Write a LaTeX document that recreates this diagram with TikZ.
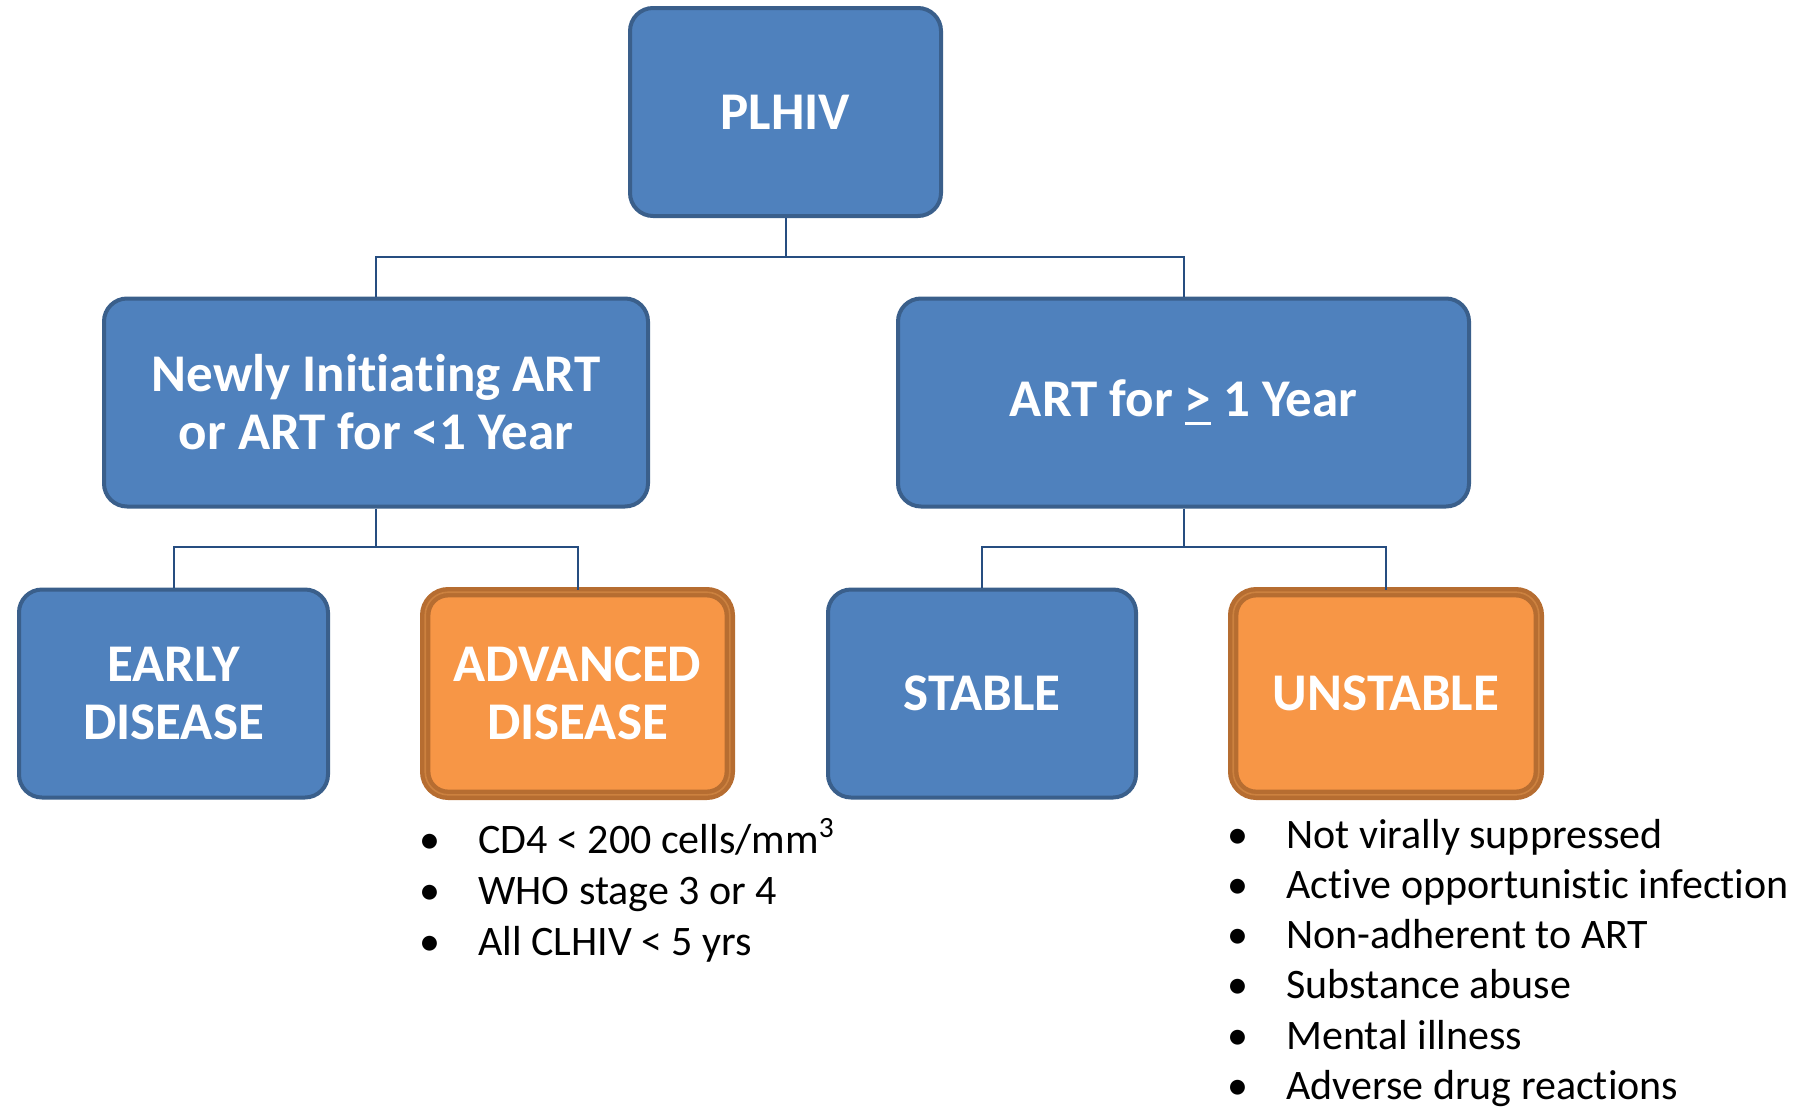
\documentclass[tikz,border=0pt]{standalone}
\usepackage{fontspec}
\setmainfont{Carlito}[Ligatures=NoCommon]
\usetikzlibrary{positioning}
\definecolor{boxblue}{HTML}{4F81BD}
\definecolor{edgeblue}{HTML}{3A5F8B}
\definecolor{lineblue}{HTML}{264D80}
\definecolor{boxorange}{HTML}{F79646}
\definecolor{edgeorange}{HTML}{B66D31}
\definecolor{stripeorange}{HTML}{CC813F}
\newlength\barlen
\newcommand\geqbar{\settowidth{\barlen}{>}\rlap{\rule[-4.5pt]{\barlen}{1.8pt}}>}

\begin{document}
\begin{tikzpicture}[x=0.5pt, y=-0.5pt, node distance={202pt},
	main/.style = {draw=edgeblue, line width=2pt, fill=boxblue, rounded corners=11.5pt, text=white, align=center, inner sep=0pt, minimum height=104pt, font=\bfseries\fontsize{26.5}{29}\selectfont},
	hot/.style = {main, draw=edgeorange, double=stripeorange, double distance=0.8pt, line width=2.2pt, fill=boxorange, minimum height=101.3pt},
	link/.style = {draw=lineblue, line width=1pt},
	item/.style = {anchor=base west, inner sep=0pt, font=\fontsize{21}{25.5}\selectfont}]
		\useasboundingbox (0,0) rectangle (1813,1108);

		\node[main, minimum width=155.5pt] (plhiv) at (785.5,112) {PLHIV};
		\node[main, minimum width=272pt] (newart) at (376,402.5) {Newly Initiating ART\\or ART for <1 Year};
		\node[main, minimum width=285.5pt] (oldart) at (1183.5,402.5) {ART for \geqbar{} 1 Year};
		\node[main, minimum width=154.5pt] (early) at (173.5,693.5) {EARLY\\DISEASE};
		\node[hot, minimum width=152.3pt] (advanced) [right of=early] {ADVANCED\\DISEASE};
		\node[main, minimum width=154pt] (stable) at (982,693.5) {STABLE};
		\node[hot, minimum width=152.8pt] (unstable) [right of=stable] {UNSTABLE};

		\coordinate (topfork) at (785.5,257);
		\coordinate (leftfork) at (376,547);
		\coordinate (rightfork) at (1183.5,547);
		\draw[link] (plhiv) -- (topfork) -| (newart);
		\draw[link] (topfork) -| (oldart);
		\draw[link] (newart) -- (leftfork) -| (early);
		\draw[link] (leftfork) -| (advanced);
		\draw[link] (oldart) -- (rightfork) -| (stable);
		\draw[link] (rightfork) -| (unstable);

		\foreach \txt [count=\i] in {CD4 < 200 cells/mm\textsuperscript{3}, WHO stage 3 or 4, All CLHIV < 5 yrs}
			\node[item] (advitem\i) at (419,802+51*\i) {\makebox[29.5pt][l]{\textbullet}\txt};
		\foreach \txt [count=\i] in {Not virally suppressed, Active opportunistic infection, Non-adherent to ART, Substance abuse, Mental illness, Adverse drug reactions}
			\node[item] (unitem\i) at (1227,798+50.2*\i) {\makebox[29.5pt][l]{\textbullet}\txt};
		\end{tikzpicture}
\end{document}
